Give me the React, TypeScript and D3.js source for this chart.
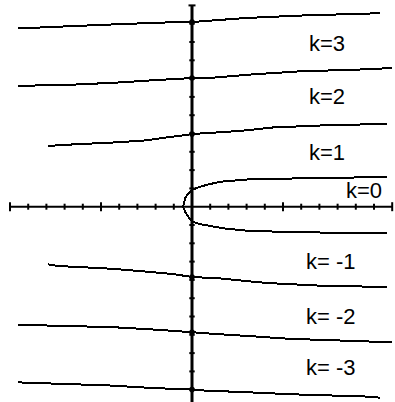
import React from "react";
import * as d3 from "d3";

// ---- data (in axis units) ----
const xTicks = [-10, -9, -8, -7, -6, -5, -4, -3, -2, -1, 1, 2, 3, 4, 5, 6, 7, 8, 9, 10, 11];
const yTicks = [-11, -10, -9, -8, -7, -6, -5, -4, -3, -2, -1, 1, 2, 3, 4, 5, 6, 7, 8, 9, 10, 11];

const curveK3: [number, number][] = [
  [-9.56, 9.74], [-7.69, 9.82], [-4.62, 9.95], [-1.76, 10.06], [0, 10.09],
  [2.91, 10.31], [6.1, 10.45], [9.89, 10.56], [10.33, 10.6],
];
const curveK2: [number, number][] = [
  [-9.56, 6.6], [-6.26, 6.68], [-3.79, 6.8], [-2.14, 6.91], [0, 7.03],
  [1.26, 7.06], [3.3, 7.23], [5.82, 7.39], [9.62, 7.51], [10.99, 7.58],
];
const curveK1: [number, number][] = [
  [-7.91, 3.32], [-6.59, 3.4], [-4.07, 3.52], [-2.47, 3.63], [-1.65, 3.75],
  [-0.55, 3.89], [0, 3.97], [2.64, 4.14], [4.45, 4.33], [7.58, 4.46], [10.71, 4.52],
];
const curveK0: [number, number][] = [
  [10.71, -1.45], [7.47, -1.42], [3.19, -1.33], [1.7, -1.18], [0.99, -1.05],
  [0.44, -0.95], [0.05, -0.82], [-0.2, -0.56], [-0.38, -0.27], [-0.49, 0],
  [-0.38, 0.46], [-0.2, 0.73], [0.07, 0.95], [0.44, 1.09], [0.99, 1.24],
  [1.63, 1.37], [3.19, 1.5], [7.75, 1.58], [10.71, 1.62],
];
const curveKm1: [number, number][] = [
  [-7.91, -3.15], [-7.36, -3.24], [-4.4, -3.39], [-2.69, -3.53], [-1.04, -3.68],
  [0, -3.84], [1.54, -3.92], [2.64, -4.03], [4.12, -4.17], [6.92, -4.31], [10.71, -4.39],
];
const curveKm2: [number, number][] = [
  [-9.56, -6.46], [-6.59, -6.52], [-4.07, -6.6], [-2.14, -6.71], [-0.38, -6.83],
  [0, -6.86], [1.37, -6.96], [3.3, -7.08], [5.38, -7.22], [8.96, -7.34], [10.99, -7.41],
];
const curveKm3: [number, number][] = [
  [-9.56, -9.6], [-8.08, -9.65], [-4.51, -9.77], [-2.14, -9.91], [0, -9.99],
  [0.55, -10.04], [3.02, -10.14], [5.77, -10.26], [9.78, -10.38], [10.33, -10.44],
];

const labelTexts = ["k=3", "k=2", "k=1", "k=0", "k= -1", "k= -2", "k= -3"];

// ---- layout (pixels) ----
const W = 395;
const H = 402;
const labelPos: [number, number][] = [
  [309, 51], [309, 104], [309, 160], [346, 198], [306, 269], [306, 324], [306, 375],
];

export default function App() {
  const x = d3.scaleLinear().domain([-10, 11]).range([10, 392.2]);
  const y = d3.scaleLinear().domain([0, 10]).range([206.7, 23.7]);
  const line = d3
    .line<[number, number]>()
    .x((d) => x(d[0]))
    .y((d) => y(d[1]))
    .curve(d3.curveLinear);

  const curves = [curveK3, curveK2, curveK1, curveK0, curveKm1, curveKm2, curveKm3];
  const x0 = x(0);
  const y0 = y(0);

  return (
    <div style={{ position: "absolute", left: 0, top: 0 }}>
      <svg width={W} height={H} style={{ display: "block", background: "#fff" }}>
        {/* x axis */}
        <line x1={x(-10)} x2={x(11)} y1={y0} y2={y0} stroke="#000" strokeWidth={2} />
        {xTicks.map((t) => {
          const big = Math.abs(t) === 5 || t === -10 || t === 11;
          const h = big ? 4.5 : 3;
          return (
            <line key={"xt" + t} x1={x(t)} x2={x(t)} y1={y0 - h} y2={y0 + h} stroke="#000" strokeWidth={2} />
          );
        })}
        {/* y axis */}
        <line x1={x0} x2={x0} y1={y(11)} y2={H + 5} stroke="#000" strokeWidth={3} />
        {yTicks.map((t) => {
          const h = t === 11 ? 3.5 : 2.7;
          return (
            <line key={"yt" + t} x1={x0 - h} x2={x0 + h} y1={y(t)} y2={y(t)} stroke="#000" strokeWidth={2} />
          );
        })}
        {/* curves */}
        {curves.map((c, i) => (
          <path
            key={"c" + i}
            d={line(c) || ""}
            fill="none"
            stroke="#000"
            strokeWidth={2}
            shapeRendering="crispEdges"
          />
        ))}
        {/* crossing blobs on the y axis */}
        {curves.map((c, i) =>
          c
            .filter((p) => p[0] === 0)
            .map((p, j) => (
              <circle key={"d" + i + "_" + j} cx={x0} cy={y(p[1])} r={2.8} fill="#000" />
            ))
        )}
        {/* labels */}
        {labelTexts.map((t, i) => (
          <text
            key={"l" + i}
            x={labelPos[i][0]}
            y={labelPos[i][1]}
            fontFamily="'Liberation Sans', Arial, sans-serif"
            fontSize={22}
            fill="#000"
            style={{ whiteSpace: "pre" }}
          >
            {t}
          </text>
        ))}
      </svg>
    </div>
  );
}
